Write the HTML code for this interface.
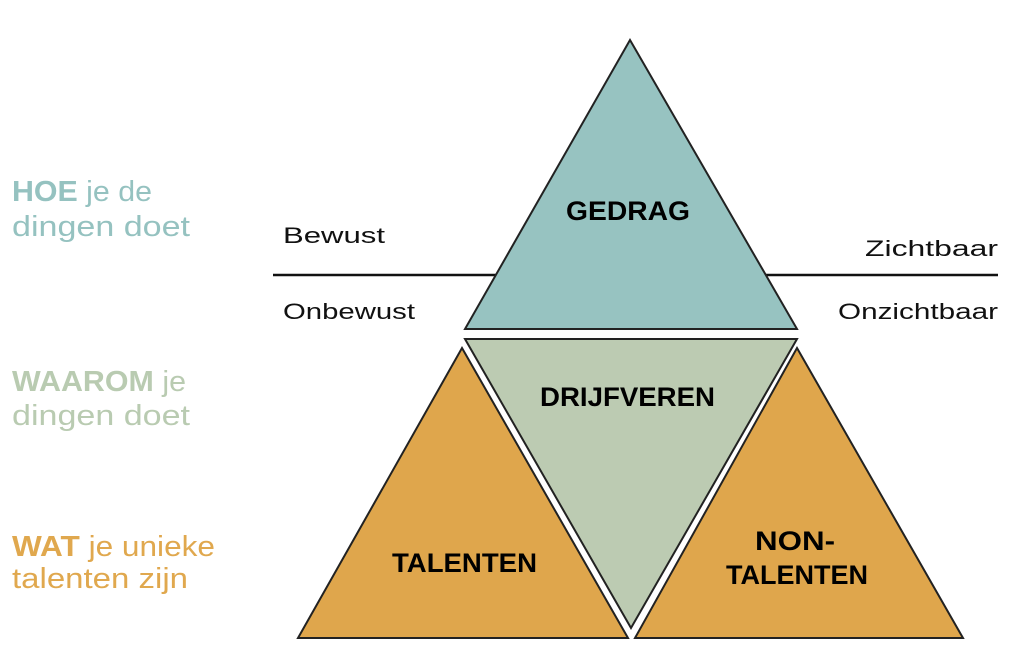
<!DOCTYPE html>
<html><head><meta charset="utf-8"><style>
html,body{margin:0;padding:0;background:#fff;width:1024px;height:663px;overflow:hidden}
</style></head><body>
<svg width="1024" height="663" viewBox="0 0 1024 663" xmlns="http://www.w3.org/2000/svg">
<g font-family="'Liberation Sans',sans-serif" font-size="29" lengthAdjust="spacingAndGlyphs">
<text x="12" y="201" fill="#95c2c0" textLength="140" lengthAdjust="spacingAndGlyphs"><tspan font-weight="bold">HOE</tspan> je de</text>
<text x="12" y="236" fill="#95c2c0" textLength="178" lengthAdjust="spacingAndGlyphs">dingen doet</text>
<text x="12" y="391" fill="#b9cbb1" textLength="174" lengthAdjust="spacingAndGlyphs"><tspan font-weight="bold">WAAROM</tspan> je</text>
<text x="12" y="425" fill="#b9cbb1" textLength="178" lengthAdjust="spacingAndGlyphs">dingen doet</text>
<text x="12" y="556" fill="#e0a84e" textLength="203" lengthAdjust="spacingAndGlyphs"><tspan font-weight="bold">WAT</tspan> je unieke</text>
<text x="12" y="588" fill="#e0a84e" textLength="176" lengthAdjust="spacingAndGlyphs">talenten zijn</text>
</g>
<line x1="273" y1="275" x2="500" y2="275" stroke="#111" stroke-width="2.5"/>
<line x1="760" y1="275" x2="998" y2="275" stroke="#111" stroke-width="2.5"/>
<g font-family="'Liberation Sans',sans-serif" font-size="22" fill="#111">
<text x="283" y="243" textLength="102" lengthAdjust="spacingAndGlyphs">Bewust</text>
<text x="283" y="319" textLength="132" lengthAdjust="spacingAndGlyphs">Onbewust</text>
<text x="865" y="256" textLength="133" lengthAdjust="spacingAndGlyphs">Zichtbaar</text>
<text x="838" y="319" textLength="160" lengthAdjust="spacingAndGlyphs">Onzichtbaar</text>
</g>
<polygon points="630,40 797,329 465,329" fill="#97c3c1" stroke="#222" stroke-width="2"/>
<polygon points="465,339 797,339 631,628" fill="#bccbb2" stroke="#222" stroke-width="2"/>
<polygon points="462,348 628,638 298,638" fill="#dfa64c" stroke="#222" stroke-width="2"/>
<polygon points="797,348 963,638 635,638" fill="#dfa64c" stroke="#222" stroke-width="2"/>
<g font-family="'Liberation Sans',sans-serif" font-weight="bold" font-size="27" fill="#000">
<text x="566" y="220" textLength="124" lengthAdjust="spacingAndGlyphs">GEDRAG</text>
<text x="540" y="406" textLength="175" lengthAdjust="spacingAndGlyphs">DRIJFVEREN</text>
<text x="392" y="572" textLength="145" lengthAdjust="spacingAndGlyphs">TALENTEN</text>
<text x="755" y="550" textLength="80" lengthAdjust="spacingAndGlyphs">NON-</text>
<text x="726" y="584" textLength="142" lengthAdjust="spacingAndGlyphs">TALENTEN</text>
</g>
</svg>
</body></html>
